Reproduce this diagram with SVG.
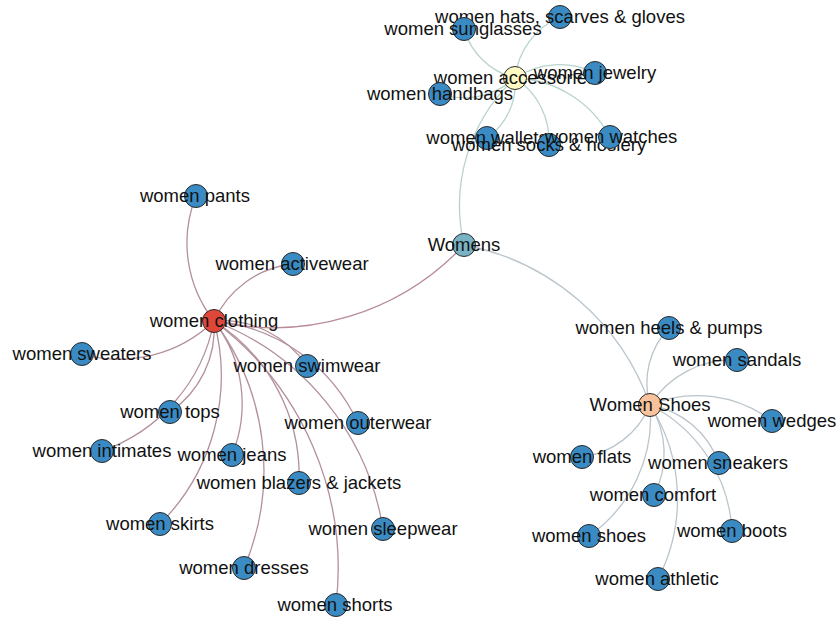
<svg xmlns="http://www.w3.org/2000/svg" width="840" height="619" viewBox="0 0 840 619">
<style>
.e{fill:none;stroke-width:1.3}
.c{stroke:#b3909c}
.a{stroke:#b8d3cd}
.s{stroke:#bac5cc}
.n circle{stroke:#2a2a2a;stroke-width:1;fill:#3a8bc4}
.n text{font-family:"Liberation Sans",Arial,Helvetica,sans-serif;font-size:18.5px;fill:#111;text-anchor:middle}
</style>
<rect width="840" height="619" fill="#fff"/>
<g id="connectors">
<path class="e a" d="M464 245 A174.6 174.6 0 0 1 515 78"/>
<path class="e c" style="stroke:#b88a98" d="M464 245 A261.3 261.3 0 0 1 214 321"/>
<path class="e s" d="M464 245 A245.4 245.4 0 0 1 650 405"/>
<path class="e c" d="M214 321 A126.3 126.3 0 0 1 196 196"/>
<path class="e c" d="M214 321 A97.4 97.4 0 0 1 293 264"/>
<path class="e c" d="M214 321 A136.1 136.1 0 0 1 82 354"/>
<path class="e c" d="M214 321 A103.3 103.3 0 0 1 307 366"/>
<path class="e c" d="M214 321 A101.1 101.1 0 0 1 170 412"/>
<path class="e c" d="M214 321 A171.6 171.6 0 0 1 102 451"/>
<path class="e c" d="M214 321 A135.2 135.2 0 0 1 232 455"/>
<path class="e c" d="M214 321 A176.5 176.5 0 0 1 358 423"/>
<path class="e c" d="M214 321 A182.9 182.9 0 0 1 299 483"/>
<path class="e c" d="M214 321 A210.1 210.1 0 0 1 160 524"/>
<path class="e c" d="M214 321 A268 268 0 0 1 383 529"/>
<path class="e c" d="M214 321 A248.8 248.8 0 0 1 244 568"/>
<path class="e c" d="M214 321 A309.1 309.1 0 0 1 336 605"/>
<path class="e a" d="M515 78 A75.8 75.8 0 0 1 560 17"/>
<path class="e a" d="M515 78 A70.7 70.7 0 0 1 464 29"/>
<path class="e a" d="M515 78 A80.2 80.2 0 0 1 595 73"/>
<path class="e a" d="M515 78 A76.7 76.7 0 0 1 440 94"/>
<path class="e a" d="M515 78 A66.2 66.2 0 0 1 487 138"/>
<path class="e a" d="M515 78 A75.1 75.1 0 0 1 549 145"/>
<path class="e a" d="M515 78 A111.8 111.8 0 0 1 610 137"/>
<path class="e s" d="M650 405 A79.3 79.3 0 0 1 669 328"/>
<path class="e s" d="M650 405 A97.9 97.9 0 0 1 737 360"/>
<path class="e s" d="M650 405 A123 123 0 0 1 772 421"/>
<path class="e s" d="M650 405 A85.6 85.6 0 0 1 582 457"/>
<path class="e s" d="M650 405 A90.1 90.1 0 0 1 719 463"/>
<path class="e s" d="M650 405 A90.1 90.1 0 0 1 654 495"/>
<path class="e s" d="M650 405 A144.5 144.5 0 0 1 589 536"/>
<path class="e s" d="M650 405 A150.3 150.3 0 0 1 732 531"/>
<path class="e s" d="M650 405 A174.2 174.2 0 0 1 658 579"/>
</g>
<g id="womens" class="n"><circle cx="464" cy="245" r="11.5" style="fill:#79b2c5"/><text x="464" y="251">Womens</text></g>
<g id="women-accessories" class="n"><circle cx="515" cy="78" r="11.5" style="fill:#fffac4"/><text x="515" y="84">women accessories</text></g>
<g id="women-hats" class="n"><circle cx="560" cy="17" r="11.5"/><text x="560" y="23">women hats, scarves &amp; gloves</text></g>
<g id="women-sunglasses" class="n"><circle cx="464" cy="29" r="11.5"/><text x="463" y="35">women sunglasses</text></g>
<g id="women-jewelry" class="n"><circle cx="595" cy="73" r="11.5"/><text x="595" y="79">women jewelry</text></g>
<g id="women-handbags" class="n"><circle cx="440" cy="94" r="11.5"/><text x="440" y="100">women handbags</text></g>
<g id="women-wallets" class="n"><circle cx="487" cy="138" r="11.5"/><text x="487" y="144">women wallets</text></g>
<g id="women-socks" class="n"><circle cx="549" cy="145" r="11.5"/><text x="549" y="151">women socks &amp; hosiery</text></g>
<g id="women-watches" class="n"><circle cx="610" cy="137" r="11.5"/><text x="611" y="143">women watches</text></g>
<g id="women-clothing" class="n"><circle cx="214" cy="321" r="11.5" style="fill:#e0473b"/><text x="214" y="327">women clothing</text></g>
<g id="women-pants" class="n"><circle cx="196" cy="196" r="11.5"/><text x="195" y="202">women pants</text></g>
<g id="women-activewear" class="n"><circle cx="293" cy="264" r="11.5"/><text x="292" y="270">women activewear</text></g>
<g id="women-sweaters" class="n"><circle cx="82" cy="354" r="11.5"/><text x="82" y="360">women sweaters</text></g>
<g id="women-swimwear" class="n"><circle cx="307" cy="366" r="11.5"/><text x="307" y="372">women swimwear</text></g>
<g id="women-tops" class="n"><circle cx="170" cy="412" r="11.5"/><text x="170" y="418">women tops</text></g>
<g id="women-intimates" class="n"><circle cx="102" cy="451" r="11.5"/><text x="102" y="457">women intimates</text></g>
<g id="women-jeans" class="n"><circle cx="232" cy="455" r="11.5"/><text x="232" y="461">women jeans</text></g>
<g id="women-outerwear" class="n"><circle cx="358" cy="423" r="11.5"/><text x="358" y="429">women outerwear</text></g>
<g id="women-blazers" class="n"><circle cx="299" cy="483" r="11.5"/><text x="299" y="489">women blazers &amp; jackets</text></g>
<g id="women-skirts" class="n"><circle cx="160" cy="524" r="11.5"/><text x="160" y="530">women skirts</text></g>
<g id="women-sleepwear" class="n"><circle cx="383" cy="529" r="11.5"/><text x="383" y="535">women sleepwear</text></g>
<g id="women-dresses" class="n"><circle cx="244" cy="568" r="11.5"/><text x="244" y="574">women dresses</text></g>
<g id="women-shorts" class="n"><circle cx="336" cy="605" r="11.5"/><text x="335" y="611">women shorts</text></g>
<g id="women-shoes-hub" class="n"><circle cx="650" cy="405" r="11.5" style="fill:#f7c29c"/><text x="650" y="411">Women Shoes</text></g>
<g id="women-heels" class="n"><circle cx="669" cy="328" r="11.5"/><text x="669" y="334">women heels &amp; pumps</text></g>
<g id="women-sandals" class="n"><circle cx="737" cy="360" r="11.5"/><text x="737" y="366">women sandals</text></g>
<g id="women-wedges" class="n"><circle cx="772" cy="421" r="11.5"/><text x="772" y="427">women wedges</text></g>
<g id="women-flats" class="n"><circle cx="582" cy="457" r="11.5"/><text x="582" y="463">women flats</text></g>
<g id="women-sneakers" class="n"><circle cx="719" cy="463" r="11.5"/><text x="718" y="469">women sneakers</text></g>
<g id="women-comfort" class="n"><circle cx="654" cy="495" r="11.5"/><text x="653" y="501">women comfort</text></g>
<g id="women-shoes" class="n"><circle cx="589" cy="536" r="11.5"/><text x="589" y="542">women shoes</text></g>
<g id="women-boots" class="n"><circle cx="732" cy="531" r="11.5"/><text x="732" y="537">women boots</text></g>
<g id="women-athletic" class="n"><circle cx="658" cy="579" r="11.5"/><text x="657" y="585">women athletic</text></g>
</svg>
